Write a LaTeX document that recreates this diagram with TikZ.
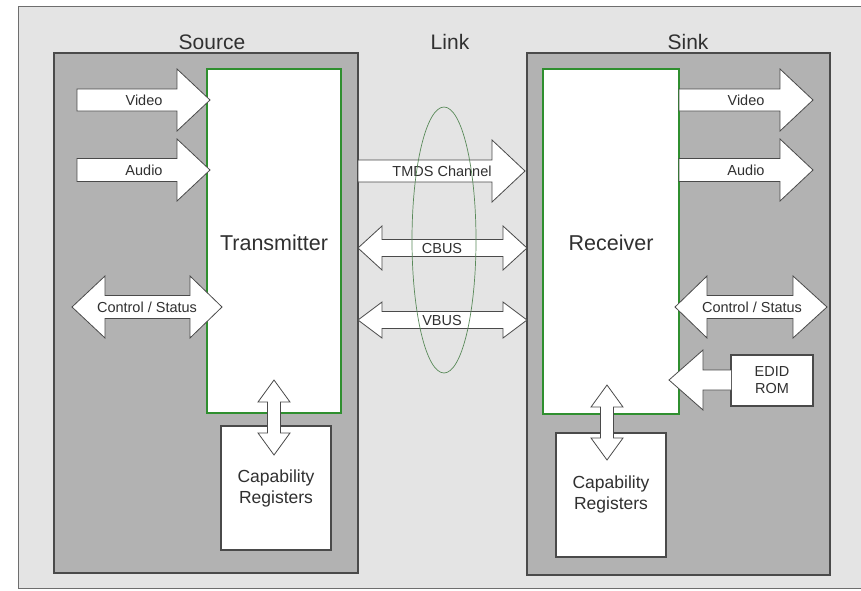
\documentclass[tikz,border=0pt]{standalone}
\usepackage{fontspec}
\setmainfont{Liberation Sans}
\definecolor{outerbg}{HTML}{E4E4E4}
\definecolor{boxbg}{HTML}{B2B2B2}
\definecolor{edge}{HTML}{4A4A4A}
\definecolor{txt}{HTML}{303030}
\definecolor{grn}{HTML}{2F8F2F}
\definecolor{ell}{HTML}{5A8A5A}
\tikzset{
  blk/.style={fill=boxbg,draw=edge,line width=1.3pt},
  chip/.style={fill=white,draw=grn,line width=1.6pt},
  wbox/.style={fill=white,draw=edge,line width=1.1pt},
  fat/.style={fill=white,draw=edge,line width=0.8pt,line join=miter},
  titletxt/.style={text=txt,font=\fontsize{21}{24}\selectfont,inner sep=0pt},
  bigtxt/.style={text=txt,font=\fontsize{21.5}{24}\selectfont,inner sep=0pt},
  lbltxt/.style={text=txt,font=\fontsize{14.5}{16}\selectfont,inner sep=0pt},
  captxt/.style={text=txt,font=\fontsize{17.5}{21}\selectfont,align=center,inner sep=0pt},
}
% right arrow: x0, head start, tip, yc, shaft half, head half
\newcommand\fatR[6]{\draw[fat] ({#1},{#4-#5}) -- ({#2},{#4-#5}) -- ({#2},{#4-#6}) -- ({#3},{#4}) -- ({#2},{#4+#6}) -- ({#2},{#4+#5}) -- ({#1},{#4+#5}) -- cycle;}
% double horizontal arrow: left tip, left head end, right head start, right tip, yc, shaft half, head half
\newcommand\fatH[7]{\draw[fat] ({#1},{#5}) -- ({#2},{#5-#7}) -- ({#2},{#5-#6}) -- ({#3},{#5-#6}) -- ({#3},{#5-#7}) -- ({#4},{#5}) -- ({#3},{#5+#7}) -- ({#3},{#5+#6}) -- ({#2},{#5+#6}) -- ({#2},{#5+#7}) -- cycle;}
% double vertical arrow: xc, top tip, top head end, bottom head start, bottom tip, shaft half, head half
\newcommand\fatV[7]{\draw[fat] ({#1},{#2}) -- ({#1+#7},{#3}) -- ({#1+#6},{#3}) -- ({#1+#6},{#4}) -- ({#1+#7},{#4}) -- ({#1},{#5}) -- ({#1-#7},{#4}) -- ({#1-#6},{#4}) -- ({#1-#6},{#3}) -- ({#1-#7},{#3}) -- cycle;}
\begin{document}
\begin{tikzpicture}[x=1pt,y=-1pt]
\useasboundingbox (0,0) rectangle (861,590);
% outer frame
\fill[outerbg] (18,6) rectangle (861,588);
\draw[edge!80,line width=1pt] (861,6) -- (18,6) -- (18,588) -- (861,588);
% titles
\node[titletxt] (tsrc) at (212,42) {Source};
\node[titletxt] (tlink) at (450,42) {Link};
\node[titletxt] (tsink) at (688,42) {Sink};
% source and sink blocks
\draw[blk] (54,53) rectangle (358,573);
\draw[blk] (527,53) rectangle (830,575);
% transmitter / receiver
\draw[chip] (207,69) rectangle (341,413);
\node[bigtxt] (tx) at (274,243) {Transmitter};
\draw[chip] (543,69) rectangle (679,414);
\node[bigtxt] (rx) at (611,243) {Receiver};
% capability registers
\draw[wbox] (221,426) rectangle (331,550);
\node[captxt] (capS) at (276,488) {Capability\\Registers};
\draw[wbox] (556,433) rectangle (666,557);
\node[captxt] (capK) at (611,494) {Capability\\Registers};
% EDID ROM
\draw[wbox] (731,355) rectangle (813,406);
\node[captxt,font=\fontsize{14.5}{17}\selectfont] (edid) at (772,380) {EDID\\ROM};
% source inputs
\fatR{77}{177}{210}{100}{11}{31}
\node[lbltxt] (sv) at (144,100) {Video};
\fatR{77}{177}{210}{170}{11.5}{31}
\node[lbltxt] (sa) at (144,170) {Audio};
\fatH{72}{105}{190}{222}{307}{11.5}{31}
\node[lbltxt] (scs) at (147,307) {Control / Status};
% sink outputs
\fatR{679}{780}{813}{100}{11}{31}
\node[lbltxt] (kv) at (746,100) {Video};
\fatR{679}{780}{813}{170}{11.5}{31}
\node[lbltxt] (ka) at (746,170) {Audio};
\fatH{675}{707}{793}{827}{307}{11.5}{31}
\node[lbltxt] (kcs) at (752,307) {Control / Status};
% EDID arrow
\draw[fat] (731,370) -- (703,370) -- (703,350) -- (669,380) -- (703,410) -- (703,390) -- (731,390);
% capability arrows
\fatV{274}{380}{402}{433}{455}{6.5}{16}
\fatV{607}{385}{407}{438}{460}{6.5}{16}
% link
\fatR{358}{492}{525}{171}{11}{31}
\node[lbltxt] (tmds) at (442,171) {TMDS Channel};
\fatH{358}{382}{503}{527}{248}{8.5}{22}
\node[lbltxt] (cbus) at (442,248) {CBUS};
\fatH{358}{382}{503}{527}{320}{8.5}{18}
\node[lbltxt] (vbus) at (442,320) {VBUS};
% link ellipse
\draw[ell,line width=0.7pt] (444,240) ellipse [x radius=32,y radius=133];
\end{tikzpicture}
\end{document}
